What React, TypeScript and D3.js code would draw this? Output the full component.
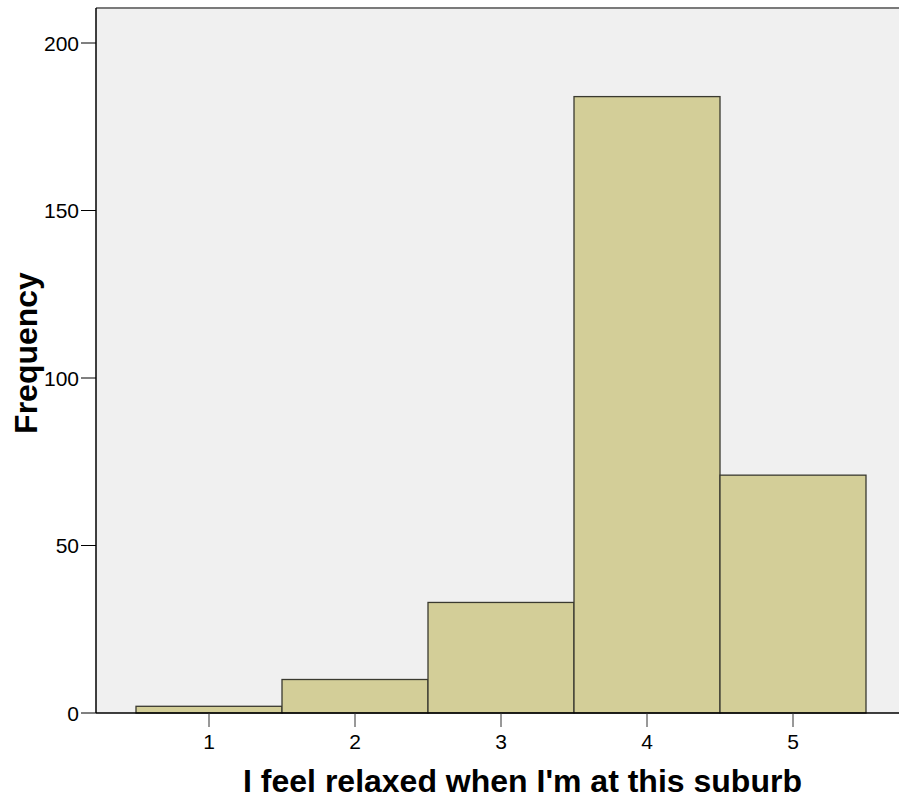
import { useRef, useEffect } from "react";
import * as d3 from "d3";

const WIDTH = 899;
const HEIGHT = 803;

const CATEGORIES = [1, 2, 3, 4, 5];
const FREQUENCIES = [2, 10, 33, 184, 71];
const Y_TICKS = [0, 50, 100, 150, 200];

const X_TITLE = "I feel relaxed when I'm at this suburb";
const Y_TITLE = "Frequency";

export default function App() {
  const svgRef = useRef<SVGSVGElement>(null);

  useEffect(() => {
    const svg = d3.select(svgRef.current);
    svg.selectAll("*").remove();

    const left = 96;
    const right = WIDTH;
    const top = 8;
    const bottom = 713;

    // bins are centred on the integer scores, width 1
    const x = d3.scaleLinear().domain([0.5, 5.5]).range([136, 866]);
    const y = d3.scaleLinear().domain([0, 200]).range([bottom, 43]);

    svg.append("rect")
      .attr("x", left)
      .attr("y", top)
      .attr("width", right - left)
      .attr("height", bottom - top)
      .attr("fill", "#f0f0f0");

    svg.append("line")
      .attr("x1", left).attr("x2", right)
      .attr("y1", top).attr("y2", top)
      .attr("stroke", "#7a7a7a")
      .attr("stroke-width", 2);

    svg.selectAll("rect.bar")
      .data(CATEGORIES)
      .enter()
      .append("rect")
      .attr("class", "bar")
      .attr("x", (d) => x(d - 0.5))
      .attr("width", (d) => x(d + 0.5) - x(d - 0.5))
      .attr("y", (_d, i) => y(FREQUENCIES[i]))
      .attr("height", (_d, i) => bottom - y(FREQUENCIES[i]))
      .attr("fill", "#d3ce98")
      .attr("stroke", "#3a3a30")
      .attr("stroke-width", 1.3);

    // y axis
    const yAxis = svg.append("g");
    yAxis.append("line")
      .attr("x1", left).attr("x2", left)
      .attr("y1", top).attr("y2", bottom)
      .attr("stroke", "#000").attr("stroke-width", 1.5);
    const yt = yAxis.selectAll("g.tick").data(Y_TICKS).enter().append("g").attr("class", "tick");
    yt.append("line")
      .attr("x1", left - 15).attr("x2", left)
      .attr("y1", (d) => y(d)).attr("y2", (d) => y(d))
      .attr("stroke", "#000").attr("stroke-width", 1);
    yt.append("text")
      .attr("x", left - 17)
      .attr("y", (d) => y(d) + 7.5)
      .attr("text-anchor", "end")
      .attr("font-family", "Liberation Sans, Arial, sans-serif")
      .attr("font-size", 21)
      .attr("fill", "#000")
      .text((d) => d);

    // x axis
    const xAxis = svg.append("g");
    xAxis.append("line")
      .attr("x1", left).attr("x2", right)
      .attr("y1", bottom).attr("y2", bottom)
      .attr("stroke", "#000").attr("stroke-width", 1.5);
    const xt = xAxis.selectAll("g.tick").data(CATEGORIES).enter().append("g").attr("class", "tick");
    xt.append("line")
      .attr("x1", (d) => x(d)).attr("x2", (d) => x(d))
      .attr("y1", bottom).attr("y2", bottom + 14)
      .attr("stroke", "#333").attr("stroke-width", 1);
    xt.append("text")
      .attr("x", (d) => x(d))
      .attr("y", bottom + 36)
      .attr("text-anchor", "middle")
      .attr("font-family", "Liberation Sans, Arial, sans-serif")
      .attr("font-size", 21)
      .attr("fill", "#000")
      .text((d) => d);

    svg.append("text")
      .attr("x", (left + right) / 2 + 25)
      .attr("y", 792)
      .attr("text-anchor", "middle")
      .attr("font-family", "Liberation Sans, Arial, sans-serif")
      .attr("font-size", 32)
      .attr("font-weight", 700)
      .attr("fill", "#000")
      .text(X_TITLE);

    svg.append("text")
      .attr("transform", `translate(37, 353) rotate(-90)`)
      .attr("text-anchor", "middle")
      .attr("font-family", "Liberation Sans, Arial, sans-serif")
      .attr("font-size", 32)
      .attr("font-weight", 700)
      .attr("fill", "#000")
      .text(Y_TITLE);
  }, []);

  return (
    <svg
      ref={svgRef}
      width={WIDTH}
      height={HEIGHT}
      style={{ position: "absolute", left: 0, top: 0, display: "block" }}
    />
  );
}
